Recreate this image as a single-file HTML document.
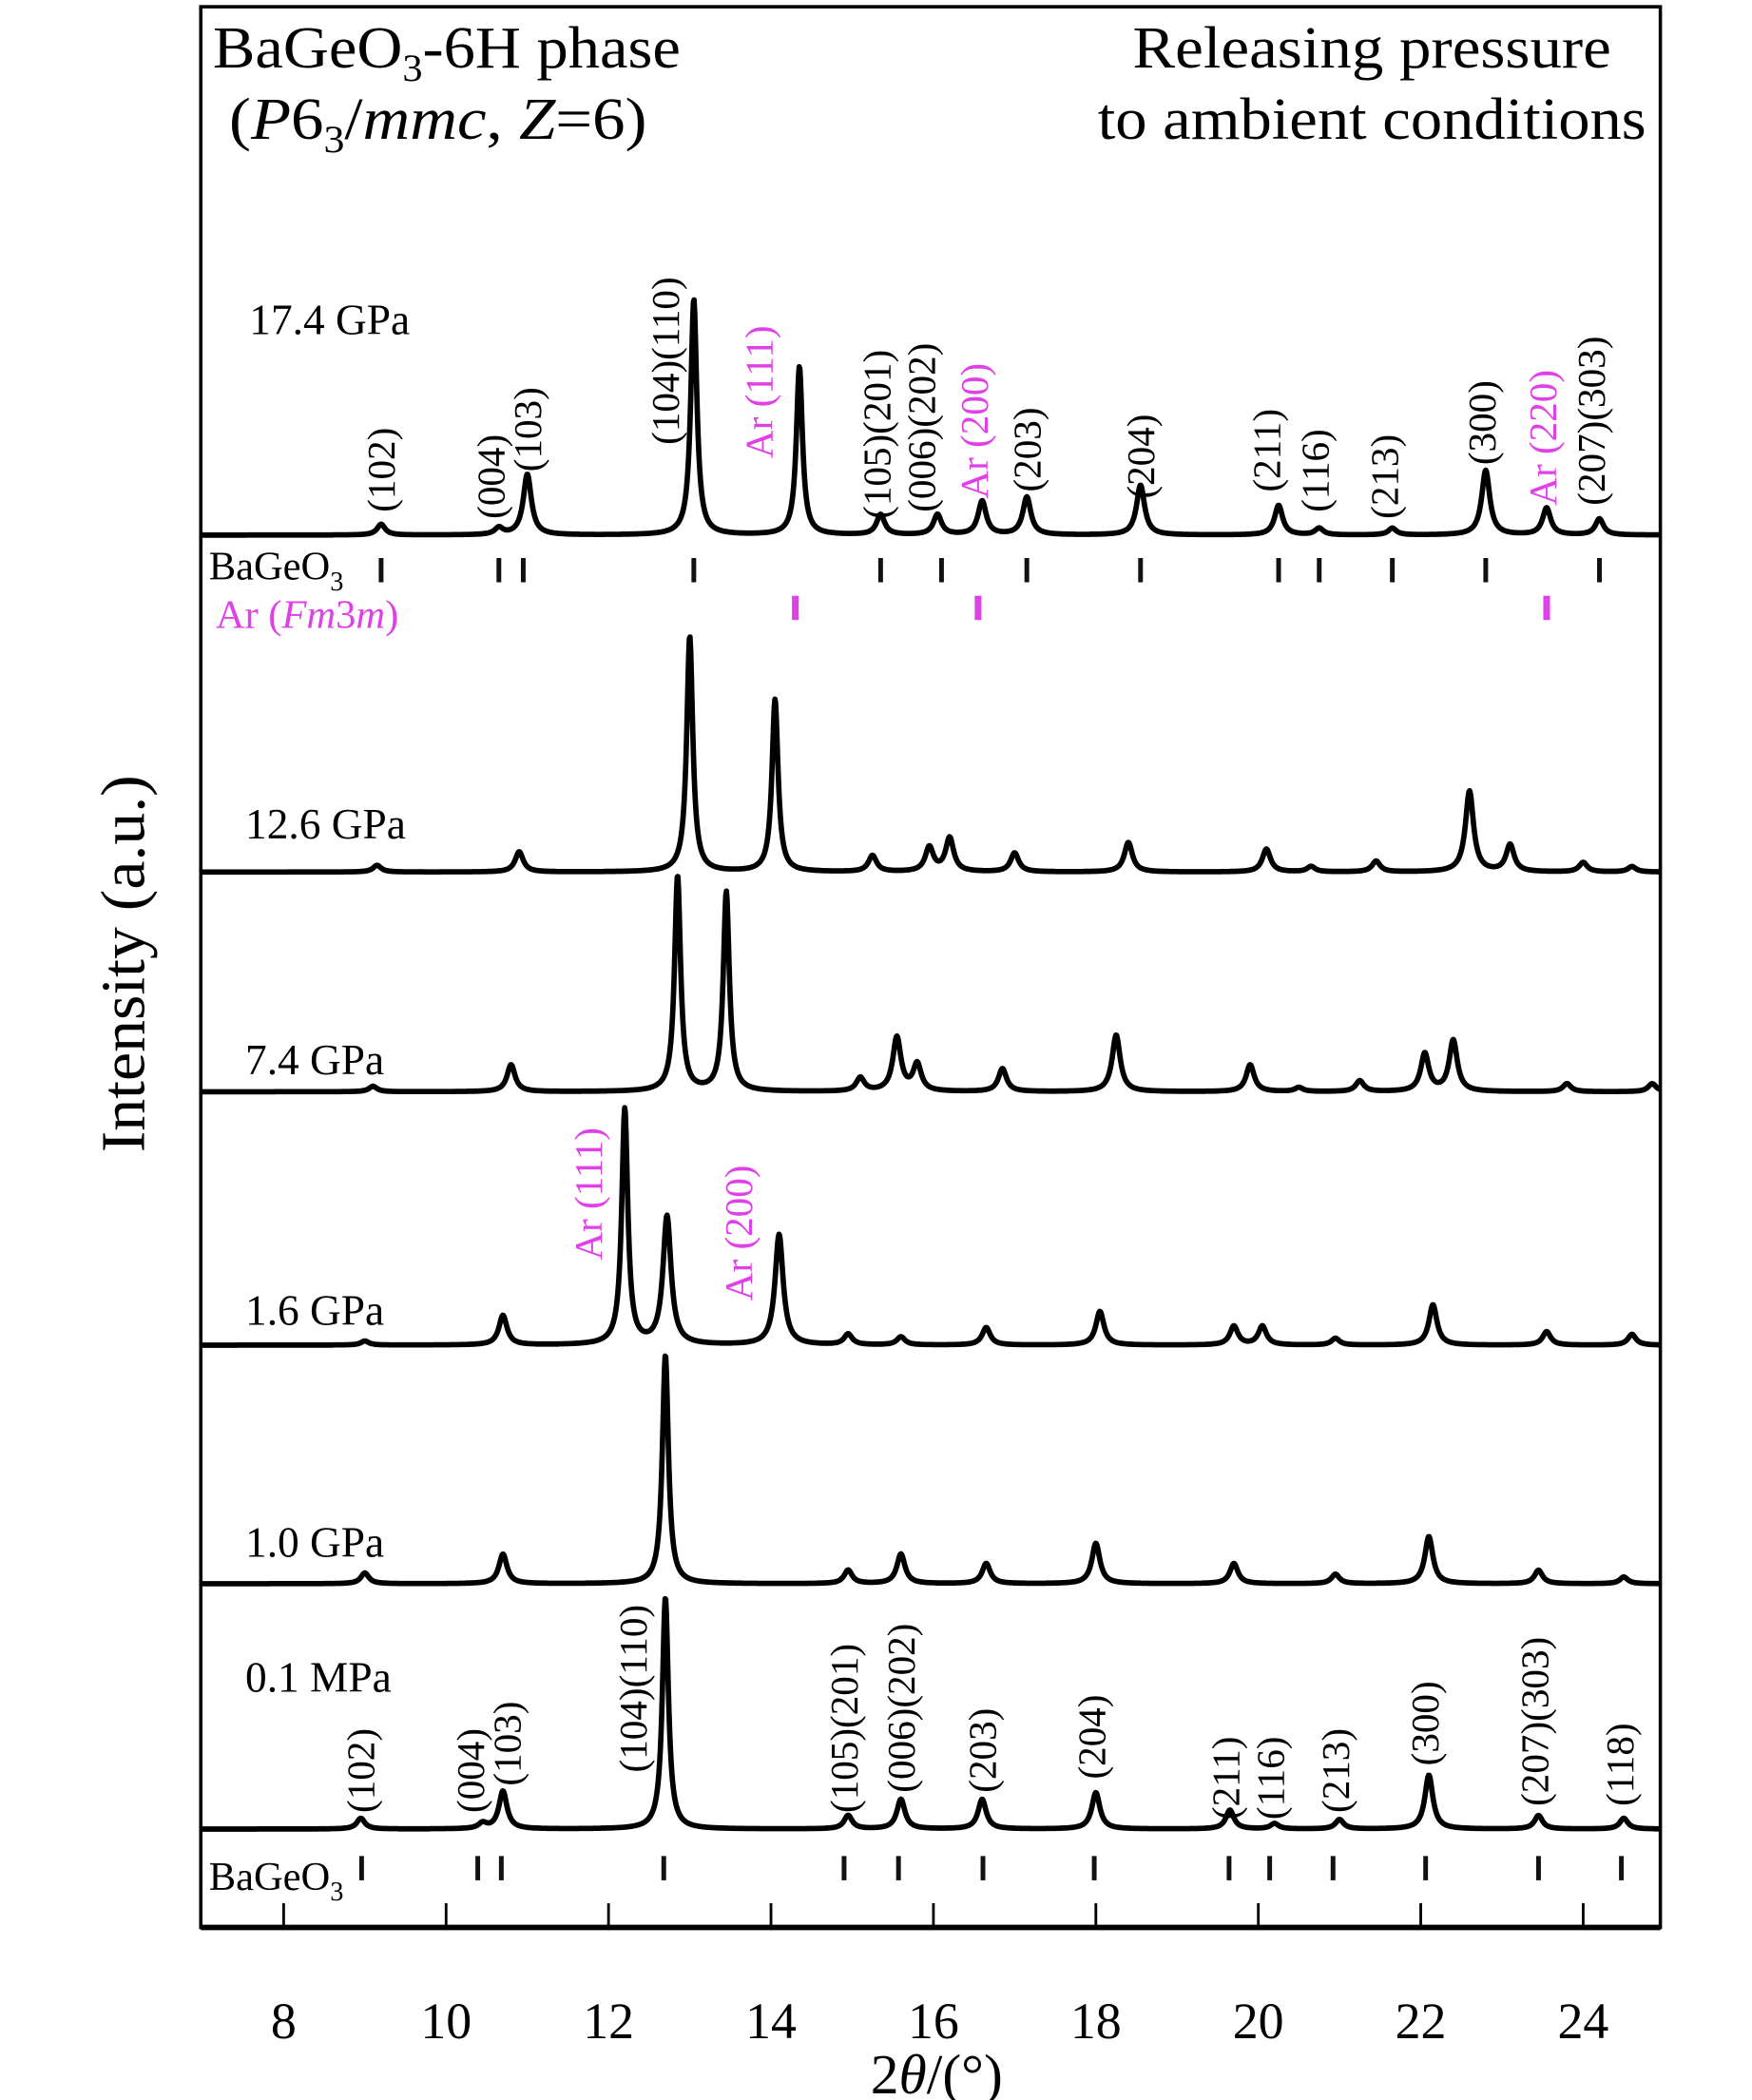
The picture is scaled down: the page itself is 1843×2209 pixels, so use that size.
<!DOCTYPE html>
<html><head><meta charset="utf-8"><style>
html,body{margin:0;padding:0;background:#fff}
svg{display:block}
text{font-family:"Liberation Serif",serif}
</style></head><body>
<svg id="chart" width="1843" height="2209" viewBox="0 0 1300 1558" preserveAspectRatio="none" xmlns="http://www.w3.org/2000/svg">
<rect x="149" y="5" width="1083" height="1425" fill="none" stroke="#000" stroke-width="2.5"/>
<line x1="149" y1="1430" x2="1232" y2="1430" stroke="#000" stroke-width="4"/>
<g id="xticks"></g>
<g id="traces"></g>
<g id="marks"></g>
<g id="labels"></g>
<text x="695" y="1553" font-size="42" text-anchor="middle">2<tspan font-style="italic">θ</tspan>/(°)</text>
<text transform="translate(107,715) rotate(-90)" font-size="46" text-anchor="middle" textLength="280" lengthAdjust="spacingAndGlyphs">Intensity (a.u.)</text>
<text x="158" y="50" font-size="44" textLength="347" lengthAdjust="spacingAndGlyphs">BaGeO<tspan font-size="28" dy="10">3</tspan><tspan dy="-10">-6H phase</tspan></text>
<text x="170" y="103" font-size="44" textLength="310" lengthAdjust="spacingAndGlyphs">(<tspan font-style="italic">P</tspan>6<tspan font-size="28" dy="10">3</tspan><tspan dy="-10">/</tspan><tspan font-style="italic">mmc</tspan>, <tspan font-style="italic">Z</tspan>=6)</text>
<text x="1018" y="50" font-size="44" text-anchor="middle" textLength="355" lengthAdjust="spacingAndGlyphs">Releasing pressure</text>
<text x="1018" y="103" font-size="44" text-anchor="middle" textLength="407" lengthAdjust="spacingAndGlyphs">to ambient conditions</text>
<text x="155" y="430" font-size="30">BaGeO<tspan font-size="20" dy="8">3</tspan></text>
<text x="160" y="466" font-size="30" fill="#e040e8">Ar (<tspan font-style="italic">Fm</tspan>3<tspan font-style="italic">m</tspan>)</text>
<text x="155" y="1402" font-size="30">BaGeO<tspan font-size="20" dy="8">3</tspan></text>
</svg>
<script>
const NS="http://www.w3.org/2000/svg";
const xTicks=[8,10,12,14,16,18,20,22,24];
const traceNames=["17.4 GPa","12.6 GPa","7.4 GPa","1.6 GPa","1.0 GPa","0.1 MPa"];
const traceBaselines=[397,647,810,998,1175,1357];
const pos174=[9.2,10.65,11.0,13.05,14.35,15.35,16.05,16.6,17.15,18.55,20.25,20.75,21.65,22.8,23.55,24.2];
const int174=[8,5,45,175,125,15,15,25,28,37,22,5,5,48,20,12];
const pos126=[9.15,10.9,13.0,14.05,15.25,15.95,16.2,17.0,18.4,20.1,20.65,21.45,22.6,23.1,24.0,24.6];
const int126=[5,15,175,128,12,18,25,14,22,17,4,8,60,20,7,4];
const pos74=[9.1,10.8,12.85,13.45,15.1,15.55,15.8,16.85,18.25,19.9,20.5,21.25,22.05,22.4,23.8,24.85];
const int74=[4,20,160,148,10,40,20,17,42,20,3,8,28,38,6,6];
const pos16=[9.0,10.7,12.2,12.72,14.1,14.95,15.6,16.65,18.05,19.7,20.05,20.95,22.15,23.55,24.6];
const int16=[3,22,175,95,82,8,6,13,25,14,14,5,30,10,8];
const pos10=[9.0,10.7,12.7,14.95,15.6,16.65,18.0,19.7,20.95,22.1,23.45,24.5];
const int10=[8,22,170,10,22,15,30,15,7,35,10,5];
const pos01=[8.95,10.45,10.7,12.7,14.95,15.6,16.6,18.0,19.65,20.2,21.0,22.1,23.45,24.5];
const int01=[8,4,28,172,10,22,22,27,14,4,7,40,10,8];
const tracePositions=[pos174,pos126,pos74,pos16,pos10,pos01];
const traceIntensities=[int174,int126,int74,int16,int10,int01];
const marksTop=[9.2,10.65,10.95,13.05,15.35,16.1,17.15,18.55,20.25,20.75,21.65,22.8,24.2];
const marksAr=[14.3,16.55,23.55];
const marksBottom=[8.96,10.39,10.68,12.68,14.9,15.57,16.61,17.98,19.64,20.14,20.92,22.06,23.45,24.47];
const labelsTop=["(102)","(004)","(103)","(104)(110)","Ar (111)","(105)(201)","(006)(202)","Ar (200)","(203)","(204)","(211)","(116)","(213)","(300)","Ar (220)","(207)(303)"];
const labelsTopPos=[9.2,10.55,11.0,12.7,13.85,15.3,15.85,16.5,17.15,18.55,20.1,20.7,21.55,22.75,23.5,24.1];
const labelsTopBase=[380,385,350,330,340,385,380,370,365,370,365,380,385,345,375,375];
const labelsBottom=["(102)","(004)","(103)","(104)(110)","(105)(201)","(006)(202)","(203)","(204)","(211)","(116)","(213)","(300)","(207)(303)","(118)"];
const labelsBottomPos=[8.95,10.3,10.75,12.3,14.9,15.6,16.6,17.95,19.6,20.15,20.95,22.05,23.4,24.45];
const labelsBottomBase=[1345,1345,1325,1315,1345,1330,1330,1320,1350,1350,1345,1310,1340,1340];
const arLabels=["Ar (111)","Ar (200)"];
const arLabelsPos=[11.75,13.6];
const arLabelsBase=[935,965];
const X0=6.98,X1=24.95,PX0=149,PX1=1232;
function xs(v){return PX0+(v-X0)/(X1-X0)*(PX1-PX0);}
function ys(base,h){return base-h;}
const gt=document.getElementById('xticks');
xTicks.forEach(t=>{
  const l=document.createElementNS(NS,'line');
  l.setAttribute('x1',xs(t));l.setAttribute('x2',xs(t));l.setAttribute('y1',1430);l.setAttribute('y2',1412);
  l.setAttribute('stroke','#000');l.setAttribute('stroke-width','2');
  
  
  gt.appendChild(l);
  const tx=document.createElementNS(NS,'text');
  tx.setAttribute('x',xs(t));tx.setAttribute('y',1512);tx.setAttribute('font-size','38');tx.setAttribute('text-anchor','middle');
  tx.textContent=t;
  
  
  gt.appendChild(tx);
});
const gtr=document.getElementById('traces');
traceNames.forEach((nm,i)=>{
  const base=traceBaselines[i],P=tracePositions[i],I=traceIntensities[i];
  let d='';
  for(let px=PX0;px<=PX1;px+=0.5){
    const v=X0+(px-PX0)/(PX1-PX0)*(X1-X0);
    let s=0;
    P.forEach((c,k)=>{const w=I[k]>100?0.045:0.06;const q=(v-c)/w;s+=I[k]/(1+q*q);});
    d+=(d?'L':'M')+px.toFixed(1)+','+ys(base,s).toFixed(1);
  }
  const p=document.createElementNS(NS,'path');
  p.setAttribute('d',d);p.setAttribute('fill','none');p.setAttribute('stroke','#000');p.setAttribute('stroke-width','4');p.setAttribute('stroke-linejoin','round');
  
  
  gtr.appendChild(p);
  const tx=document.createElementNS(NS,'text');
  tx.setAttribute('x',i===0?185:182);tx.setAttribute('y',[248,622,797,983,1155,1255][i]);tx.setAttribute('font-size','32');
  tx.textContent=nm;
  
  
  gtr.appendChild(tx);
});
const gm=document.getElementById('marks');
function mk(arr,y1,y2,col,w,name){arr.forEach(v=>{
  const l=document.createElementNS(NS,'line');
  l.setAttribute('x1',xs(v));l.setAttribute('x2',xs(v));l.setAttribute('y1',y1);l.setAttribute('y2',y2);
  l.setAttribute('stroke',col);l.setAttribute('stroke-width',w);
  
  
  gm.appendChild(l);});}
mk(marksTop,414,432,'#111','3.5','bageo3-mark');
mk(marksAr,442,460,'#e040e8','5','ar-mark');
mk(marksBottom,1377,1395,'#111','3.5','bageo3-mark');
const gl=document.getElementById('labels');
function lab(arr,pos,bases,colFn,name){arr.forEach((s,k)=>{
  const tx=document.createElementNS(NS,'text');
  const x=xs(pos[k])+10;
  tx.setAttribute('transform','translate('+x+','+bases[k]+') rotate(-90)');
  tx.setAttribute('font-size','29');
  tx.setAttribute('fill',colFn(s));
  tx.textContent=s;
  
  
  gl.appendChild(tx);});}
const col=s=>s.startsWith('Ar')?'#e040e8':'#000';
lab(labelsTop,labelsTopPos,labelsTopBase,col,'hkl-label-top');
lab(labelsBottom,labelsBottomPos,labelsBottomBase,col,'hkl-label-bottom');
lab(arLabels,arLabelsPos,arLabelsBase,col,'ar-label-1-6gpa');
</script>
</body></html>
